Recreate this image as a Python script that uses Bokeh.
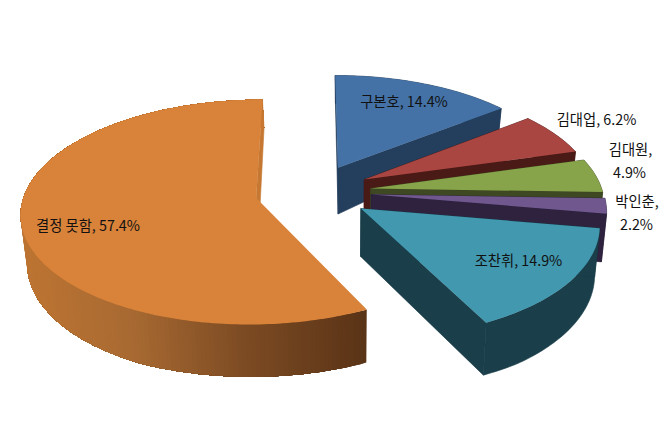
import numpy as np
from bokeh.plotting import figure
from bokeh.models import Range1d
from bokeh.core.properties import value
from bokeh.embed import file_html
from bokeh.resources import INLINE

names = ["구본호", "김대업", "김대원", "박인춘", "조찬휘", "결정 못함"]
values = [14.4, 6.2, 4.9, 2.2, 14.9, 57.4]
top_colors = ["#4472A6", "#A94642", "#87A44A", "#70588F", "#4198AF", "#D9833A"]
wall_colors = ["#243E5D", "#4A1A16", "#3E4822", "#2E223E", "#1A3E4A", "#C67832"]

a1, a2, a3, b1, b2, b3, j, k = 234.38809, 4.83546, 312.70617, -12.26206, -84.74372, 191.25783, 0.01694, 0.12208
first_angle = 0.14417
explode = 0.25135

spans = np.array(values) / sum(values) * 2 * np.pi
edges = np.concatenate([[0], np.cumsum(spans)]) + first_angle

def proj(X, Y):
    w = 1 + j*X + k*Y
    return (a1*X + a2*Y + a3)/w, (b1*X + b2*Y + b3)/w

def slice_pt(i, th, r=1.0):
    mid = (edges[i] + edges[i+1])/2
    return proj(explode*np.sin(mid) + r*np.sin(th), explode*np.cos(mid) + r*np.cos(th))

depth_y = [98, 170, 210, 310, 330]
depth_v = [28, 47, 48, 53, 52]
def to_bottom(x, y):
    return 345 + 0.98*(np.asarray(x) - 345), np.asarray(y) + np.interp(y, depth_y, depth_v)

grad_x = [30, 130, 240, 366]
grad_c = np.array([[188,116,51],[168,106,50],[126,76,36],[90,52,23]], float)
def orange_grad(x):
    return "#%02x%02x%02x" % tuple(int(np.interp(x, grad_x, grad_c[:, n])) for n in range(3))

W, H = 664, 428
P = figure(width=W, height=H, output_backend="svg", toolbar_location=None,
           x_range=Range1d(0, W), y_range=Range1d(H, 0), min_border=0,
           outline_line_color=None)
P.axis.visible = False
P.grid.visible = False

for i in [5, 0, 1, 2, 3, 4]:
    th = np.linspace(edges[i], edges[i+1], max(24, int(np.degrees(spans[i]))))
    ax, ay = slice_pt(i, 0.0, 0.0)
    rx, ry = slice_pt(i, th)
    bax, bay = to_bottom(ax, ay)
    brx, bry = to_bottom(rx, ry)
    wc = wall_colors[i]
    if i == 5:
        # the outer wall shades from right to left; each band runs on to the end of the rim so no seams show
        xs, ys, cs = [], [], []
        for n in range(len(th)-1):
            xs.append(np.r_[rx[n:], brx[n:][::-1]])
            ys.append(np.r_[ry[n:], bry[n:][::-1]])
            cs.append(orange_grad((rx[n]+rx[n+1])/2) if ry[n] > ay else wc)
        P.patches(xs, ys, fill_color=cs, line_color=None)
    else:
        P.patch(np.r_[rx, brx[::-1]], np.r_[ry, bry[::-1]], fill_color=wc, line_color=wc, line_width=.6)
        P.patch([ax, rx[0], brx[0], bax], [ay, ry[0], bry[0], bay], fill_color=wc, line_color=wc, line_width=.6)
    P.patch([ax, rx[-1], brx[-1], bax], [ay, ry[-1], bry[-1], bay], fill_color=wc, line_color=wc, line_width=.6)
    P.patch(np.r_[ax, rx], np.r_[ay, ry], fill_color=top_colors[i], line_color=None)

lab_txt = [f"{names[0]}, {values[0]}%", f"{names[1]}, {values[1]}%", f"{names[2]},", f"{values[2]}%",
           f"{names[3]},", f"{values[3]}%", f"{names[4]}, {values[4]}%", f"{names[5]}, {values[5]}%"]
lx = [403.5, 596, 630, 629, 636.5, 636, 518, 87.5]
ly = [100, 118, 148, 171, 200, 223, 259, 224]
P.text(lx, ly, text=lab_txt, text_font=value("Noto Sans CJK KR"), text_font_size="14.3px",
       text_color="#111111", text_align="center", text_baseline="middle")

open("out.html", "w").write(file_html(P, INLINE))
